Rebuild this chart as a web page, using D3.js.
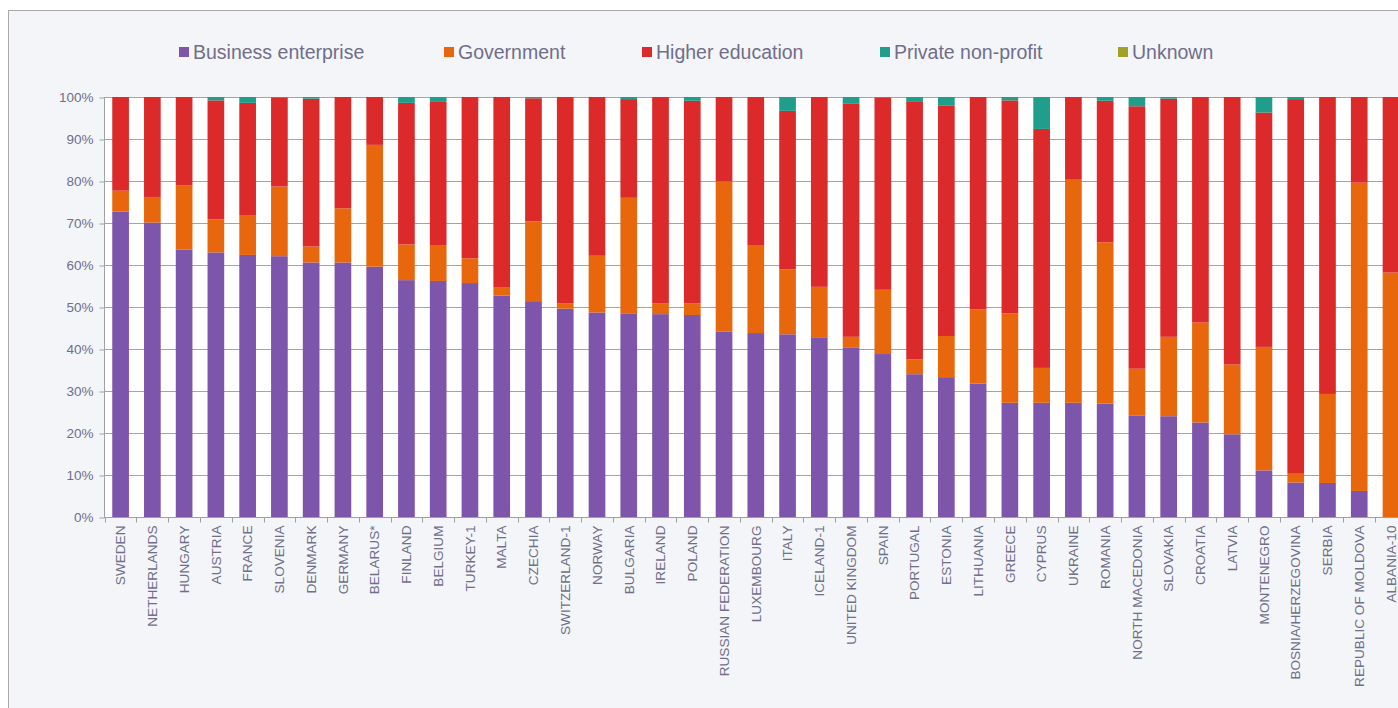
<!DOCTYPE html>
<html>
<head>
<meta charset="utf-8">
<script src="https://cdn.jsdelivr.net/npm/d3@7"></script>
<style>
  html, body { margin: 0; padding: 0; background: #ffffff; overflow: hidden; }
  svg { display: block; font-family: "Liberation Sans", Arial, sans-serif; }
</style>
</head>
<body>
<svg id="chart" width="1398" height="708"></svg>
<script>
const countries = ["SWEDEN","NETHERLANDS","HUNGARY","AUSTRIA","FRANCE","SLOVENIA","DENMARK","GERMANY","BELARUS*","FINLAND","BELGIUM","TURKEY-1","MALTA","CZECHIA","SWITZERLAND-1","NORWAY","BULGARIA","IRELAND","POLAND","RUSSIAN FEDERATION","LUXEMBOURG","ITALY","ICELAND-1","UNITED KINGDOM","SPAIN","PORTUGAL","ESTONIA","LITHUANIA","GREECE","CYPRUS","UKRAINE","ROMANIA","NORTH MACEDONIA","SLOVAKIA","CROATIA","LATVIA","MONTENEGRO","BOSNIA/HERZEGOVINA","SERBIA","REPUBLIC OF MOLDOVA","ALBANIA-10"];
const seriesNames = ["Business enterprise","Government","Higher education","Private non-profit","Unknown"];
const business   = [72.7,70.1,63.7,63.0,62.4,62.1,60.6,60.6,59.6,56.4,56.2,55.7,52.7,51.4,49.6,48.7,48.5,48.3,48.1,44.1,43.8,43.5,42.8,40.4,38.8,34.0,33.3,31.8,27.2,27.2,27.2,27.0,24.2,24.0,22.5,19.7,11.1,8.2,8.1,6.2,0];
const government = [5.0,6.1,15.2,7.9,9.5,16.6,3.8,12.9,29.0,8.5,8.4,5.9,1.9,19.0,1.3,13.5,27.5,2.6,2.8,35.8,20.8,15.5,12.0,2.5,15.3,3.5,9.8,17.6,21.3,8.3,53.1,38.4,11.1,18.9,23.8,16.6,29.4,2.1,21.2,73.4,58.2];
const higherEd   = [22.3,23.8,21.1,28.3,26.7,21.1,35.2,26.5,11.4,33.7,34.4,38.4,45.4,29.3,49.1,37.8,23.5,49.1,48.2,20.1,35.4,37.7,45.2,55.6,45.7,61.5,54.8,50.6,50.7,56.9,19.7,33.7,62.5,56.7,53.7,63.7,55.8,89.2,70.7,20.4,41.8];
const privateNP  = [0,0,0,0.8,1.4,0.2,0.4,0,0,1.4,1.0,0,0,0.3,0,0,0.5,0,0.9,0,0,3.3,0,1.5,0.2,1.0,2.1,0,0.8,7.6,0,0.9,2.2,0.4,0,0,3.7,0.5,0,0,0];
const unknown    = [0,0,0,0,0,0,0,0,0,0,0,0,0,0,0,0,0,0,0,0,0,0,0,0,0,0,0,0,0,0,0,0,0,0,0,0,0,0,0,0,0];
const yTicks = [0,10,20,30,40,50,60,70,80,90,100];
const colors = ["#7d55ab","#e8670c","#dc2a2a","#1f9e8c","#a0a228"];

const keys = ["business","government","higher","private","unknown"];
const rows = countries.map((c, i) => ({
  country: c,
  business: business[i], government: government[i], higher: higherEd[i],
  private: privateNP[i], unknown: unknown[i]
}));

const svg = d3.select("#chart");
const textColor = "#706e8a";

// panel
svg.append("rect").attr("x", 0).attr("y", 0).attr("width", 1398).attr("height", 708).attr("fill", "#ffffff");
svg.append("rect").attr("x", 8.5).attr("y", 10.5).attr("width", 1420).attr("height", 720)
  .attr("fill", "#f3f5f9").attr("stroke", "#a9a9ad").attr("stroke-width", 1);

const plotLeft = 104, plotTop = 97, plotBottom = 517;
const step = 31.76;
const x = d3.scaleBand()
  .domain(countries)
  .range([plotLeft, plotLeft + step * (countries.length - 0.475 + 0.52)])
  .paddingInner(0.475).paddingOuter(0.26);
const y = d3.scaleLinear().domain([0, 100]).range([plotBottom, plotTop]);

// white plot area
svg.append("rect").attr("x", plotLeft).attr("y", plotTop).attr("width", 1398 - plotLeft).attr("height", plotBottom - plotTop).attr("fill", "#ffffff");

// gridlines
svg.append("g").selectAll("line").data(yTicks.filter(t => t > 0)).join("line")
  .attr("x1", plotLeft).attr("x2", 1400)
  .attr("y1", d => Math.round(y(d)) + 0.5).attr("y2", d => Math.round(y(d)) + 0.5)
  .attr("stroke", "#a4a4a4").attr("stroke-width", 1);

// bars
const stack = d3.stack().keys(keys)(rows);
svg.append("g").selectAll("g").data(stack).join("g")
  .attr("fill", (d, i) => colors[i])
  .selectAll("rect").data(d => d).join("rect")
  .attr("x", d => x(d.data.country))
  .attr("width", x.bandwidth())
  .attr("y", d => y(d[1]))
  .attr("height", d => Math.max(0, y(d[0]) - y(d[1])));

// y axis
const yAxis = d3.axisLeft(y).tickValues(yTicks).tickFormat(d => d + "%").tickSize(5).tickPadding(6);
const gy = svg.append("g").attr("transform", `translate(${plotLeft + 0.5},0.5)`).call(yAxis);
gy.select(".domain").attr("stroke", "#a0a0a0").attr("d", `M0,${plotTop}V${plotBottom}`);
gy.selectAll(".tick line").attr("stroke", "#a0a0a0");
gy.selectAll(".tick text").attr("fill", textColor).style("font-size", "13.5px").style("font-family", "'Liberation Sans', Arial, sans-serif");

// x axis
const xAxis = d3.axisBottom(x).tickSize(0).tickPadding(0);
const gx = svg.append("g").attr("transform", `translate(0,${plotBottom + 0.5})`).call(xAxis);
gx.select(".domain").attr("stroke", "#a0a0a0").attr("d", `M${plotLeft},0H1400`);
gx.selectAll(".tick text")
  .attr("fill", textColor)
  .style("font-size", "13.6px").style("font-family", "'Liberation Sans', Arial, sans-serif")
  .attr("transform", "rotate(-90)")
  .attr("text-anchor", "end")
  .attr("x", -8).attr("y", 0).attr("dy", "0.35em");
// boundary ticks between categories
gx.append("g").selectAll("line").data(d3.range(countries.length + 1)).join("line")
  .attr("x1", i => Math.round(x(countries[0]) - x.step() * x.paddingInner() / 2 + i * x.step()) + 0.5)
  .attr("x2", i => Math.round(x(countries[0]) - x.step() * x.paddingInner() / 2 + i * x.step()) + 0.5)
  .attr("y1", 0).attr("y2", 5).attr("stroke", "#a0a0a0");

// legend
const legendX = [179, 444, 642, 880, 1118];
const lg = svg.append("g");
seriesNames.forEach((name, i) => {
  lg.append("rect").attr("x", legendX[i]).attr("y", 47).attr("width", 10).attr("height", 10).attr("fill", colors[i]);
  lg.append("text").attr("x", legendX[i] + 14).attr("y", 52).attr("dy", "0.35em")
    .attr("fill", textColor).style("font-size", "19.5px").text(name);
});
</script>
</body>
</html>
